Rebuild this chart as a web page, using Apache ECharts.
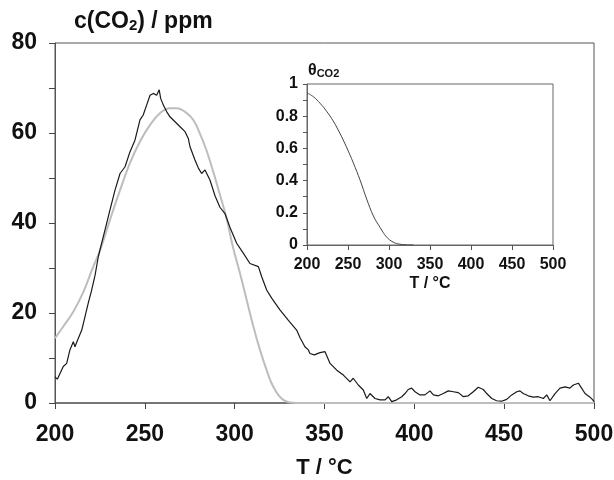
<!DOCTYPE html>
<html>
<head>
<meta charset="utf-8">
<script src="https://cdn.jsdelivr.net/npm/echarts@6/dist/echarts.min.js"></script>
<style>
html,body{margin:0;padding:0;background:#fff;}
#chart{width:614px;height:480px;}
</style>
</head>
<body>
<div id="chart"></div>
<script>
// Measured CO2 signal (black, noisy)
var tBlack = [200, 201.3, 204.6, 206.5, 208.3, 210.2, 211.1, 213, 214.9, 216.7,
  218.5, 220.4, 222.3, 224.1, 225, 227.8, 230.6, 233.4, 236.2, 239,
  241.7, 244.5, 247.3, 249.1, 251, 252.9, 253.8, 254.7, 256.6, 258,
  258.8, 260.3, 262.2, 264, 266.8, 269.6, 272.4, 274.2, 275.1, 277.9,
  279.8, 281.6, 283.5, 286.3, 289.1, 291.8, 294.6, 297.4, 301.1, 304.8,
  308.5, 313.2, 315, 317.8, 320.6, 325.2, 329.8, 334.5, 336.4, 339.1,
  341, 341.9, 344.3, 347.5, 350.3, 353.1, 356.8, 360.5, 364.2, 366,
  368.8, 371.6, 373.5, 375.3, 378.1, 380.9, 383.7, 385.5, 387.4, 390.2,
  393, 394.8, 396.6, 398.5, 400.4, 403.1, 405.9, 408.7, 410.6, 413.3,
  416.1, 418.9, 421.7, 424.5, 427.3, 430, 432.8, 435.6, 438.4, 440.3,
  443.1, 445.8, 448.6, 451.4, 454.2, 457, 458.8, 460.6, 463.4, 466.2,
  469, 471.8, 473.7, 475.5, 478.3, 481.1, 483.9, 486.6, 488.5, 491.3,
  493.1, 495, 497.8, 499.3, 500];
var vBlack = [5.8, 5.3, 8.1, 8.8, 11.8, 13.6, 12.5, 14.4, 16.2, 19.2,
  22.2, 25.1, 28.4, 32.5, 34, 38.4, 42.9, 47.3, 51, 52.5,
  55.8, 58.4, 62.9, 64, 66.2, 68.4, 68.1, 68.8, 68.4, 69.6,
  67.7, 66.2, 64.7, 63.6, 62.5, 61.4, 60.3, 58.8, 57, 54,
  52.2, 51, 51.8, 49.5, 46, 43.5, 42.1, 39, 35.5, 33.3,
  31, 30.3, 28.1, 25.1, 23.3, 20.7, 18.4, 16.2, 14.5, 12.5,
  11.8, 11, 10.7, 11.2, 11.4, 8.8, 7.3, 6.2, 4.7, 5.5,
  4, 2.9, 1, 2.1, 1, 0.7, 0.7, 1.4, 0.3, 0.7,
  1.4, 2.1, 3, 3.3, 2.5, 1.8, 1.8, 2.7, 1.8, 1.6,
  2.1, 2.7, 2.5, 2.3, 1.4, 1.6, 2.5, 3.5, 3, 2.1,
  1, 0.5, 0.4, 0.8, 1.8, 2.5, 2.7, 2.1, 1.6, 1.3,
  1.4, 1, 1.8, 0.5, 2.1, 3.3, 3.6, 3.3, 4, 4.4,
  3.3, 2.1, 1.3, 0.7, 0.3];

// Simulated curve (grey, smooth)
var tGray = [200, 204.6, 210.2, 215.8, 221.3, 225, 230.6, 236.2, 241.7, 247.3,
  252.9, 258.4, 264, 267.7, 272.4, 277, 280.7, 284, 288, 292,
  295.5, 299, 303, 306.7, 310.4, 314.1, 317.8, 321.5, 327, 334.5,
  350, 400, 450, 500];
var vGray = [14.4, 17, 20.3, 24.7, 30.3, 33.8, 40.7, 47.3, 53.3, 58.1,
  61.8, 64.4, 65.5, 65.5, 64.7, 62.9, 59.8, 56.5, 51.5, 46,
  41, 34.7, 28.8, 22.9, 17, 11.8, 7.3, 3.6, 0.7, 0,
  0, 0, 0, 0];

// Inset: coverage theta_CO2
var tTheta = [200, 208, 216, 224, 232, 240, 248, 256.5, 264.6, 272.8, 281, 289, 297, 305, 313, 321, 330];
var vTheta = [0.945, 0.92, 0.88, 0.83, 0.77, 0.695, 0.61, 0.51, 0.405, 0.285, 0.18, 0.11, 0.05, 0.018, 0.005, 0.001, 0];

var FONT = '"Liberation Sans", Arial, Helvetica, sans-serif';
function pairs(t, v) { return t.map(function (x, i) { return [x, v[i]]; }); }

var chart = echarts.init(document.getElementById('chart'), null, {renderer: 'canvas'});

var boldLabel = function (size, margin) {
  return {show: true, fontSize: size, fontWeight: 'bold', fontFamily: FONT, color: '#111', margin: margin,
          showMinLabel: true, showMaxLabel: true};
};

chart.setOption({
  animation: false,
  backgroundColor: '#fff',
  grid: [
    {left: 55, right: 20, top: 43, bottom: 77, show: true, borderColor: '#555', borderWidth: 1, containLabel: false, outerBoundsMode: 'none'},
    {left: 307, top: 84, width: 246, height: 161, show: true, borderColor: '#666', borderWidth: 1, containLabel: false, outerBoundsMode: 'none'}
  ],
  xAxis: [
    {type: 'value', gridIndex: 0, min: 200, max: 500, interval: 50,
     axisLine: {show: true, lineStyle: {color: '#666', width: 1.5}},
     axisTick: {show: true, inside: false, length: 6, lineStyle: {color: '#444'}},
     axisLabel: boldLabel(23, 20),
     splitLine: {show: false},
     name: 'T / °C', nameLocation: 'middle', nameGap: 54,
     nameTextStyle: {fontSize: 22, fontWeight: 'bold', fontFamily: FONT, color: '#111'}},
    {type: 'value', gridIndex: 1, min: 200, max: 500, interval: 50,
     axisLine: {show: true, lineStyle: {color: '#666'}},
     axisTick: {show: true, inside: false, length: 5, lineStyle: {color: '#555'}},
     axisLabel: boldLabel(16, 12),
     splitLine: {show: false},
     name: 'T / °C', nameLocation: 'middle', nameGap: 31,
     nameTextStyle: {fontSize: 16, fontWeight: 'bold', fontFamily: FONT, color: '#111'}}
  ],
  yAxis: [
    {type: 'value', gridIndex: 0, min: 0, max: 80, interval: 20,
     axisLine: {show: true, lineStyle: {color: '#555'}},
     axisTick: {show: true, inside: false, length: 6, lineStyle: {color: '#444'}},
     minorTick: {show: true, splitNumber: 2, length: 6, lineStyle: {color: '#444'}},
     axisLabel: boldLabel(23, 18),
     splitLine: {show: false}, minorSplitLine: {show: false}},
    {type: 'value', gridIndex: 1, min: 0, max: 1, interval: 0.2,
     axisLine: {show: true, lineStyle: {color: '#666'}},
     axisTick: {show: true, inside: false, length: 4, lineStyle: {color: '#555'}},
     minorTick: {show: true, splitNumber: 2, length: 4, lineStyle: {color: '#555'}},
     axisLabel: Object.assign(boldLabel(16, 9), {formatter: function (v) { return String(+v.toFixed(1)); }}),
     splitLine: {show: false}, minorSplitLine: {show: false}}
  ],
  graphic: [
    {type: 'text', left: 74, top: 10, z: 100,
     style: {text: '{a|c(CO}{s|2}{a|) / ppm}', rich: {
       a: {fontSize: 23, fontWeight: 'bold', fontFamily: FONT, fill: '#111', lineHeight: 28, verticalAlign: 'bottom'},
       s: {fontSize: 15, fontWeight: 'bold', fontFamily: FONT, fill: '#111', lineHeight: 14, verticalAlign: 'bottom'}
     }}},
    {type: 'text', left: 308, top: 63, z: 100,
     style: {text: '{a|θ}{s|CO2}', rich: {
       a: {fontSize: 16, fontWeight: 'bold', fontFamily: FONT, fill: '#111', lineHeight: 19, verticalAlign: 'bottom'},
       s: {fontSize: 11, fontWeight: 'bold', fontFamily: FONT, fill: '#111', lineHeight: 11, verticalAlign: 'bottom'}
     }}}
  ],
  series: [
    {type: 'line', xAxisIndex: 0, yAxisIndex: 0, data: pairs(tGray, vGray), showSymbol: false, smooth: 0.4,
     lineStyle: {color: '#bdbdbd', width: 2}, z: 2},
    {type: 'line', xAxisIndex: 0, yAxisIndex: 0, data: pairs(tBlack, vBlack), showSymbol: false, smooth: false,
     lineStyle: {color: '#1a1a1a', width: 1.2}, z: 3},
    {type: 'line', xAxisIndex: 1, yAxisIndex: 1, data: pairs(tTheta, vTheta), showSymbol: false, smooth: 0.4,
     lineStyle: {color: '#444', width: 1}, z: 3}
  ]
});
</script>
</body>
</html>
